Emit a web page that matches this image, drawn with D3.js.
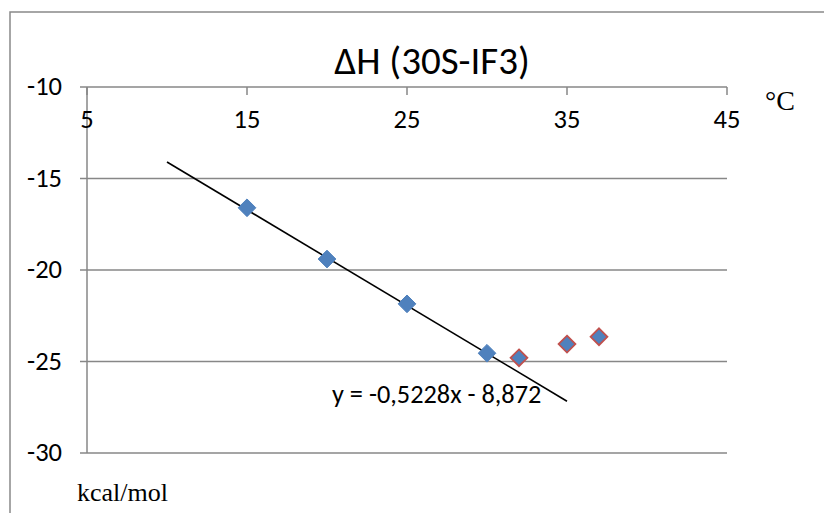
<!DOCTYPE html>
<html><head><meta charset="utf-8">
<script src="https://cdn.jsdelivr.net/npm/d3@7"></script>
<style>
body{margin:0;background:#fff;}
svg{display:block;}
</style></head>
<body><svg id="c" width="824" height="513"></svg>
<script>
const bluePoints = [
  {t:15, dh:-16.6},
  {t:20, dh:-19.4},
  {t:25, dh:-21.85},
  {t:30, dh:-24.55}
];
const redPoints = [
  {t:32, dh:-24.8},
  {t:35, dh:-24.05},
  {t:37, dh:-23.65}
];
const xTicks = [5, 15, 25, 35, 45];
const yTicks = [-10, -15, -20, -25, -30];
const trendSlope = -0.5228;
const trendIntercept = -8.872;
const trendRange = [10, 35];
const titleText = "ΔH (30S-IF3)";
const eqText = "y = -0,5228x - 8,872";

const svg = d3.select("#c");
const sans = "Carlito, Lato, 'Open Sans', sans-serif";
const serif = "'Liberation Serif', 'Times New Roman', serif";

// outer border
svg.append("rect").attr("x",10).attr("y",12).attr("width",830).attr("height",520)
  .attr("fill","none").attr("stroke","#898989").attr("stroke-width",1.5);

const x = d3.scaleLinear().domain([5,45]).range([87,727]);
const y = d3.scaleLinear().domain([-10,-30]).range([87,453]);

const grid = "#878787";
// horizontal gridlines
svg.append("g").selectAll("line").data(yTicks).join("line")
  .attr("x1",80).attr("x2",x(45))
  .attr("y1",d=>y(d)).attr("y2",d=>y(d))
  .attr("stroke",grid).attr("stroke-width",1.5);
// y axis line
svg.append("line").attr("x1",x(5)).attr("x2",x(5)).attr("y1",y(-10)).attr("y2",y(-30))
  .attr("stroke",grid).attr("stroke-width",1.5);
// x ticks (downward)
svg.append("g").selectAll("line").data(xTicks).join("line")
  .attr("x1",d=>x(d)).attr("x2",d=>x(d)).attr("y1",y(-10)).attr("y2",y(-10)+8)
  .attr("stroke",grid).attr("stroke-width",1.5);

// y labels
svg.append("g").selectAll("text").data(yTicks).join("text")
  .attr("x",62).attr("y",d=>y(d)+8)
  .attr("text-anchor","end").attr("font-family",sans).attr("font-size",26.5)
  .attr("fill","#000").text(d=>d);
// x labels
svg.append("g").selectAll("text").data(xTicks).join("text")
  .attr("x",d=>x(d)).attr("y",128)
  .attr("text-anchor","middle").attr("font-family",sans).attr("font-size",26.5)
  .attr("fill","#000").text(d=>d);

// trendline
const line = d3.line().x(d=>x(d)).y(d=>y(trendSlope*d+trendIntercept));
svg.append("path").datum(trendRange).attr("d",line)
  .attr("fill","none").attr("stroke","#000").attr("stroke-width",1.6);

const diamond = d3.symbol().type(d3.symbolDiamond2).size(200);
svg.append("g").selectAll("path").data(bluePoints).join("path")
  .attr("d",diamond).attr("transform",d=>`translate(${x(d.t)},${y(d.dh)})`)
  .attr("fill","#4F81BD").attr("stroke","#4F81BD").attr("stroke-width",1);
svg.append("g").selectAll("path").data(redPoints).join("path")
  .attr("d",d3.symbol().type(d3.symbolDiamond2).size(180))
  .attr("transform",d=>`translate(${x(d.t)},${y(d.dh)})`)
  .attr("fill","#4F81BD").attr("stroke","#C0504D").attr("stroke-width",1.8);

// texts
svg.append("text").attr("x",432).attr("y",74).attr("text-anchor","middle")
  .attr("font-family",sans).attr("font-size",39).attr("fill","#000").text(titleText);
svg.append("text").attr("x",332).attr("y",403).attr("text-anchor","start")
  .attr("font-family",sans).attr("font-size",26.3).attr("fill","#000").text(eqText);
svg.append("text").attr("x",765).attr("y",110)
  .attr("font-family",serif).attr("font-size",28).attr("fill","#000").text("°C");
svg.append("text").attr("x",77).attr("y",501)
  .attr("font-family",serif).attr("font-size",26).attr("fill","#000").text("kcal/mol");
</script></body></html>
